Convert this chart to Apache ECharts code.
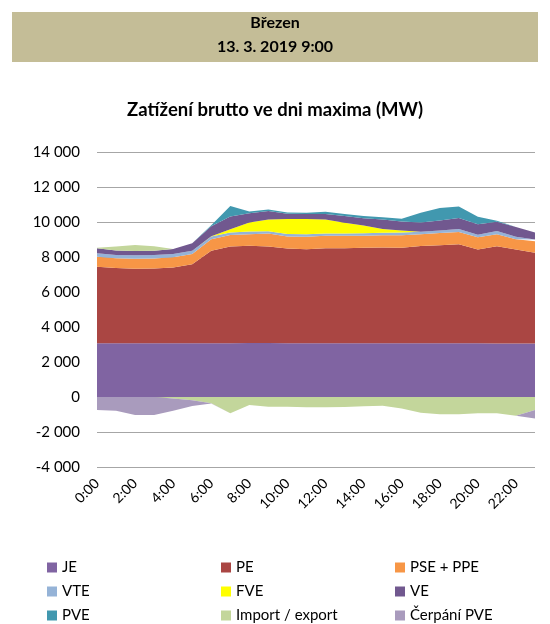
<!DOCTYPE html>
<html>
<head>
<meta charset="utf-8">
<script src="https://cdn.jsdelivr.net/npm/echarts@6/dist/echarts.min.js"></script>
<style>
  html, body { margin: 0; padding: 0; background: #fff; }
  #chart { width: 550px; height: 624px; }
</style>
</head>
<body>
<div id="chart"></div>
<script>
// Hourly load on the day of the monthly maximum, MW
const hours = ['0:00','1:00','2:00','3:00','4:00','5:00','6:00','7:00','8:00','9:00','10:00','11:00',
               '12:00','13:00','14:00','15:00','16:00','17:00','18:00','19:00','20:00','21:00','22:00','23:00'];

const je   = [3070, 3070, 3070, 3070, 3070, 3070, 3075, 3075, 3080, 3080, 3075, 3070, 3070, 3070, 3070, 3065, 3065, 3065, 3065, 3065, 3065, 3060, 3060, 3060];
const pe   = [4380, 4300, 4265, 4280, 4330, 4510, 5280, 5520, 5560, 5520, 5410, 5370, 5425, 5425, 5460, 5480, 5465, 5560, 5600, 5660, 5370, 5560, 5370, 5190];
const pse  = [570, 555, 570, 570, 580, 590, 660, 665, 665, 740, 690, 720, 720, 720, 690, 705, 720, 680, 710, 705, 690, 685, 585, 655];
const vte  = [190, 190, 190, 190, 190, 190, 150, 135, 150, 135, 135, 135, 135, 135, 135, 135, 145, 140, 140, 165, 150, 180, 140, 100];
const fve  = [0, 0, 0, 0, 0, 0, 20, 190, 510, 665, 855, 875, 800, 610, 440, 220, 120, 0, 0, 0, 0, 0, 0, 0];
const ve   = [285, 250, 250, 250, 285, 420, 570, 725, 535, 495, 305, 285, 305, 380, 420, 540, 520, 520, 575, 630, 600, 525, 560, 390];
const pve  = [0, 0, 0, 0, 0, 0, 60, 610, 95, 75, 75, 75, 135, 115, 135, 130, 150, 570, 705, 655, 430, 60, 0, 0];
const imp  = [40, 230, 340, 260, -80, -190, -350, -930, -460, -550, -550, -590, -590, -570, -530, -495, -650, -895, -990, -990, -935, -935, -1065, -745];
const cerp = [-740, -780, -1030, -1030, -705, -325, -20, 0, 0, 0, 0, 0, 0, 0, 0, 0, 0, 0, 0, 0, 0, 0, 0, -480];

const yTicks = { min: -4000, max: 14000, step: 2000 };

const FONT = 'Lato, "Open Sans", sans-serif';

// Import/export changes sign during the day: its positive part sits on top of
// the generation stack, its negative part goes below zero.
const impPos = imp.map(v => (v > 0 ? v : 0));
const impNeg = imp.map(v => (v < 0 ? v : 0));

function area(name, data, color, extra) {
  return Object.assign({
    name: name,
    type: 'line',
    stack: 'total',
    data: data,
    symbol: 'none',
    smooth: false,
    lineStyle: { width: 0 },
    areaStyle: { color: color, opacity: 1 },
    itemStyle: { color: color },
    emphasis: { disabled: true }
  }, extra || {});
}

function thousands(v) {
  return String(v).replace(/\B(?=(\d{3})+(?!\d))/g, ' ');
}

const legendText = { fontFamily: FONT, fontSize: 15, color: '#000' };
function legendCol(left, names) {
  return {
    orient: 'vertical', left: left, top: 555, height: 90,
    itemWidth: 10, itemHeight: 10, itemGap: 9,
    icon: 'rect', textStyle: legendText, data: names,
    selectedMode: false
  };
}

const chart = echarts.init(document.getElementById('chart'), null, { renderer: 'canvas' });
chart.setOption({
  animation: false,
  backgroundColor: '#fff',
  title: {
    text: 'Zatížení brutto ve dni maxima (MW)',
    left: 'center', top: 96,
    textStyle: { fontFamily: FONT, fontSize: 18.5, fontWeight: 'bold', color: '#000' }
  },
  graphic: [
    { type: 'rect', left: 12, top: 12, shape: { width: 526, height: 50 }, style: { fill: '#C4BD97' }, z: -1 },
    { type: 'text', left: 'center', top: 15, style: { text: 'Březen', font: 'bold 16px ' + FONT, fill: '#000' } },
    { type: 'text', left: 'center', top: 39, style: { text: '13. 3. 2019 9:00', font: 'bold 16px ' + FONT, fill: '#000' } }
  ],
  legend: [
    legendCol(42, ['JE', 'VTE', 'PVE']),
    legendCol(216, ['PE', 'FVE', 'Import / export']),
    legendCol(390, ['PSE + PPE', 'VE', 'Čerpání PVE'])
  ],
  grid: { left: 97, right: 15, top: 152, bottom: 157, containLabel: false },
  xAxis: {
    type: 'category',
    data: hours,
    boundaryGap: false,
    axisLine: { show: false },
    axisTick: { show: false },
    axisLabel: { interval: 1, rotate: 45, margin: 14, fontFamily: FONT, fontSize: 14, color: '#000' }
  },
  yAxis: {
    type: 'value',
    min: yTicks.min, max: yTicks.max, interval: yTicks.step,
    axisLine: { show: false },
    axisTick: { show: false },
    axisLabel: { margin: 17, fontFamily: FONT, fontSize: 15, color: '#000', formatter: thousands },
    splitLine: { lineStyle: { color: '#A6A6A6', width: 1 } }
  },
  series: [
    area('JE', je, '#8064A2'),
    area('PE', pe, '#AA4643'),
    area('PSE + PPE', pse, '#F79646'),
    area('VTE', vte, '#95B3D7'),
    area('FVE', fve, '#FFFF00'),
    area('VE', ve, '#71588F'),
    area('PVE', pve, '#4198AF'),
    area('Import / export', impPos, '#C3D69B'),
    area('Import / export', impNeg, '#C3D69B', { stackStrategy: 'negative' }),
    area('Čerpání PVE', cerp, '#A99BBD', { stackStrategy: 'negative' })
  ]
});
</script>
</body>
</html>
